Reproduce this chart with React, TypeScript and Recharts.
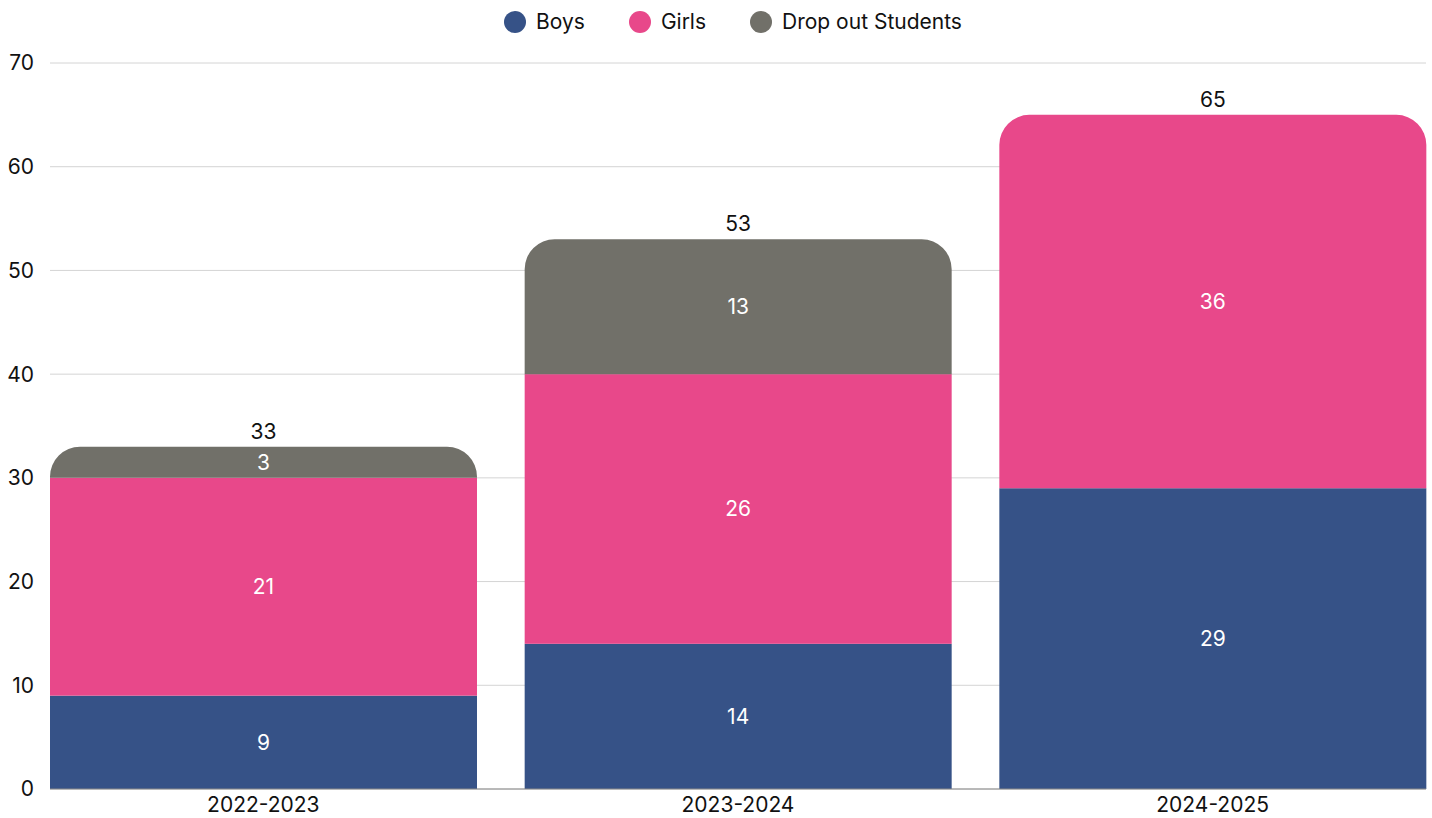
import React from "react";
import { Bar, BarChart, CartesianGrid, LabelList, Legend, XAxis, YAxis } from "recharts";

document.body.style.margin = "0";

const years = ["2022-2023", "2023-2024", "2024-2025"];
const boys = [9, 14, 29];
const girls = [21, 26, 36];
const dropOuts = [3, 13, 0];
const yTicks = [0, 10, 20, 30, 40, 50, 60, 70];

const data = years.map((year, i) => ({
  year,
  boys: boys[i],
  girls: girls[i],
  dropOut: dropOuts[i],
  total: boys[i] + girls[i] + dropOuts[i],
}));

const series = [
  { key: "boys", name: "Boys", color: "#365287" },
  { key: "girls", name: "Girls", color: "#E8488A" },
  { key: "dropOut", name: "Drop out Students", color: "#717069" },
];
const FONT = "Inter, 'Liberation Sans', sans-serif";

function topKey(row: any) {
  let top = series[0].key;
  for (const s of series) if (row[s.key] > 0) top = s.key;
  return top;
}

function makeShape(key: string) {
  return (props: any) => {
    const { x, y, width, height, fill, payload } = props;
    if (!height || height <= 0) return <g />;
    if (topKey(payload) !== key) {
      return <rect x={x} y={y} width={width} height={height} fill={fill} />;
    }
    const r = Math.min(30, height, width / 2);
    const d = `M${x},${y + height} L${x},${y + r} A${r},${r} 0 0 1 ${x + r},${y} L${x + width - r},${y} A${r},${r} 0 0 1 ${x + width},${y + r} L${x + width},${y + height} Z`;
    return <path d={d} fill={fill} />;
  };
}

function innerLabel(props: any) {
  const { x, y, width, height, value } = props;
  if (!value) return null;
  return (
    <text x={x + width / 2} y={y + height / 2} fill="#ffffff" fontSize={21} fontFamily={FONT} textAnchor="middle" dominantBaseline="central">
      {value}
    </text>
  );
}

function makeTotalLabel(key: string) {
  return (props: any) => {
    const { x, y, width, index } = props;
    const row = data[index];
    if (topKey(row) !== key) return null;
    return (
      <text x={x + width / 2} y={y - 8} fill="#111111" fontSize={21} fontFamily={FONT} textAnchor="middle">
        {row.total}
      </text>
    );
  };
}

function LegendContent() {
  return (
    <div style={{ display: "flex", justifyContent: "center", alignItems: "center", gap: 44, fontSize: 21, color: "#111111", fontFamily: FONT, paddingLeft: 34 }}>
      {series.map((s) => (
        <div key={s.key} style={{ display: "flex", alignItems: "center" }}>
          <span style={{ width: 22, height: 22, borderRadius: "50%", background: s.color, display: "inline-block", marginRight: 10 }} />
          <span>{s.name}</span>
        </div>
      ))}
    </div>
  );
}

export default function App() {
  return (
    <div style={{ width: 1432, height: 818, fontFamily: FONT }}>
      <BarChart width={1432} height={818} data={data} margin={{ top: 38, right: 6, bottom: 0, left: 0 }} barCategoryGap={24}>
        <CartesianGrid vertical={false} stroke="#d4d4d4" />
        <XAxis dataKey="year" tickLine={false} axisLine={{ stroke: "#888888" }} height={29} tick={{ fill: "#111111", fontSize: 21 }} tickMargin={2} padding={{ left: -24, right: -24 }} />
        <YAxis ticks={yTicks} domain={[0, 70]} width={50} axisLine={false} tickLine={false} tickMargin={10} tick={{ fill: "#111111", fontSize: 21 }} />
        <Legend verticalAlign="top" align="center" content={<LegendContent />} wrapperStyle={{ top: 9, left: 0, width: 1432 }} />
        {series.map((s) => (
          <Bar key={s.key} dataKey={s.key} name={s.name} stackId="a" fill={s.color} isAnimationActive={false} shape={makeShape(s.key)}>
            <LabelList dataKey={s.key} content={innerLabel} />
            <LabelList dataKey="total" content={makeTotalLabel(s.key)} />
          </Bar>
        ))}
      </BarChart>
    </div>
  );
}
